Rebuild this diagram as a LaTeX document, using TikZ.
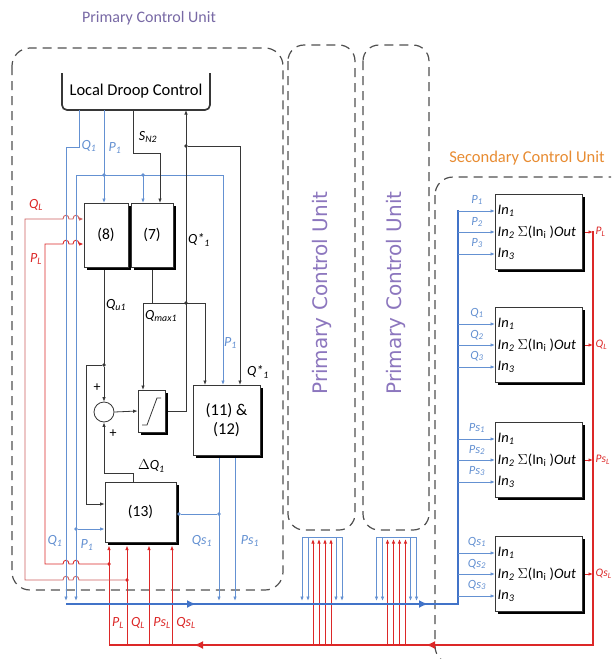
\documentclass[tikz,border=0pt]{standalone}
\usepackage{fontspec}
\setmainfont{Carlito}
\newfontfamily\rotfont{DejaVu Sans}
\usetikzlibrary{arrows.meta,shadows}
\definecolor{lblue}{RGB}{100,145,210}
\definecolor{bblue}{RGB}{65,115,200}
\definecolor{rred}{RGB}{220,40,40}
\definecolor{pinkred}{RGB}{205,95,95}
\definecolor{ptxt}{RGB}{120,105,165}
\definecolor{ptxtb}{RGB}{140,118,190}
\definecolor{otxt}{RGB}{232,140,50}
\definecolor{dgray}{RGB}{55,55,55}
\definecolor{dashc}{RGB}{80,80,80}
\newcommand\vsub[2]{\textit{#1}\textsubscript{\textit{#2}}}
\begin{document}
\begin{tikzpicture}[x=1pt,y=-1pt,
  >={Latex[length=4.5pt,width=3.5pt]},
  bl/.style={draw=lblue, line width=0.9pt},
  bk/.style={draw=dgray, line width=0.8pt},
  rd/.style={draw=rred, line width=0.9pt},
  pr/.style={draw=pinkred, line width=0.9pt},
  blk/.style={draw=dgray, line width=0.7pt, fill=white,
    drop shadow={opacity=1, fill=black, shadow xshift=2.6pt, shadow yshift=-2.6pt},
    inner sep=0pt, font=\fontsize{15.5}{18}\selectfont, align=center},
  dot/.style={circle, fill, inner sep=0pt, minimum size=3.6pt},
  lab/.style={font=\fontsize{14}{15}\selectfont, inner sep=0pt},
  slab/.style={font=\fontsize{12.5}{13}\selectfont, inner sep=0pt, text=lblue},
  intext/.style={font=\fontsize{14.5}{15}\selectfont, inner sep=0pt, anchor=west},
  dashbox/.style={draw=dashc, line width=1.2pt, dash pattern=on 9pt off 6pt},
  bus/.style={line width=2.6pt},
  bushead/.style={line width=2.6pt, -{Latex[length=9pt,width=8pt]}},
]
\useasboundingbox (0,0) rectangle (611,659);
\clip (0,0) rectangle (611,659);
\fill[white] (0,0) rectangle (611,659);

% ---------- titles and dashed units ----------
\node[text=ptxt, font=\fontsize{16}{18}\selectfont] (t1) at (149,18) {Primary Control Unit};
\draw[dashbox, rounded corners=18pt] (12,48) rectangle (283,590);
\draw[dashbox, rounded corners=16pt] (288,45) rectangle (355,530);
\draw[dashbox, rounded corners=16pt] (363,45) rectangle (429,530);
\node[rotate=90, text=ptxtb, font=\rotfont\fontsize{20}{22}\selectfont] (u2) at (321.5,293) {Primary Control Unit};
\node[rotate=90, text=ptxtb, font=\rotfont\fontsize{20}{22}\selectfont] (u3) at (396,293) {Primary Control Unit};
\node[text=otxt, font=\fontsize{16.5}{18}\selectfont] (t2) at (527,158) {Secondary Control Unit};
\draw[dashbox, rounded corners=18pt] (435,177) rectangle (660,664);

% ---------- local droop control ----------
\node[minimum width=148pt, minimum height=38pt, inner sep=0pt, font=\fontsize{16.5}{18}\selectfont] (ldc) at (136,91) {Local Droop Control};
\draw[dgray, line width=1.7pt, rounded corners=5pt] (62,73) -- (62,110) -- (210,110) -- (210,73);

% ---------- blocks ----------
\node[blk, minimum width=44pt, minimum height=64pt] (b8) at (106,235) {(8)};
\node[blk, minimum width=42pt, minimum height=64pt] (b7) at (152,235) {(7)};
\node[blk, minimum width=27pt, minimum height=42pt] (sat) at (151.5,411) {};
\draw[bk] (142,425) -- (147,425) -- (157,398) -- (161,398);
\node[blk, minimum width=67pt, minimum height=70pt, font=\fontsize{16.5}{19}\selectfont] (b11) at (226.5,420) {(11) \&\\(12)};
\node[blk, minimum width=71pt, minimum height=60pt] (b13) at (140.5,512) {(13)};
\node[circle, draw=dgray, line width=0.8pt, minimum size=20pt, inner sep=0pt] (sum) at (104,412) {};
\node[lab] (pl1) at (97,388) {+};
\node[lab] (pl2) at (113,434) {+};

% ---------- red P_L / Q_L feeding (8) and (13) ----------
\draw[rd,->] (127,645) -- (127,545.5);
\draw[rd,->] (109,645) -- (109,545.5);
\draw[rd,->] (149,645) -- (149,545.5);
\draw[rd,->] (172,645) -- (172,545.5);
\node[dot, rred] (dpl) at (109,564) {};
\node[dot, rred] (dql) at (127,580) {};
\draw[pr,->] (dql) -- (79,580) .. controls (79,575) and (73,575) .. (73,580) -- (69,580) .. controls (69,575) and (63,575) .. (63,580) -- (25,580) -- (25,219) -- (63,219) .. controls (63,214) and (69,214) .. (69,219) -- (73,219) .. controls (73,214) and (79,214) .. (79,219) -- (b8.west |- 0,219);
\draw[rd,->] (dpl) -- (79,564) .. controls (79,559) and (73,559) .. (73,564) -- (69,564) .. controls (69,559) and (63,559) .. (63,564) -- (45,564) -- (45,244) -- (63,244) .. controls (63,239) and (69,239) .. (69,244) -- (73,244) .. controls (73,239) and (79,239) .. (79,244) -- (b8.west |- 0,244);
\node[lab, text=rred] (lqlt) at (36,205) {\vsub{Q}{L}};
\node[lab, text=rred] (lplt) at (36,259) {\vsub{P}{L}};
\node[lab, text=rred] (lpl) at (118,623) {\vsub{P}{L}};
\node[lab, text=rred] (lql) at (138,623) {\vsub{Q}{L}};
\node[lab, text=rred] (lpsl) at (162,623) {\vsub{Ps}{L}};
\node[lab, text=rred] (lqsl) at (186,623) {\vsub{Qs}{L}};

% ---------- blue signals from LDC ----------
\draw[bl,->] (79,110) -- (79,147) -- (66,147) -- (66,601);
\draw[bl] (104,110) -- (104,175);
\draw[bl] (76,175) -- (223,175);
\draw[bl,->] (104,175) -- (104,203);
\draw[bl,->] (143,175) -- (143,203);
\draw[bl,->] (76,175) -- (76,601);
\draw[bl,->] (223,175) -- (223,385);
\node[dot, lblue] (d1) at (104,175) {};
\node[dot, lblue] (d2) at (143,175) {};
\node[dot, lblue] (d3) at (76,529) {};
\draw[bl,->] (d3) -- (b13.west |- 0,529);
\node[lab, text=lblue] (lq1t) at (89,146) {\vsub{Q}{1}};
\node[lab, text=lblue] (lp1t) at (115,148) {\vsub{P}{1}};
\node[lab, text=lblue] (lq1b) at (55,541) {\vsub{Q}{1}};
\node[lab, text=lblue] (lp1b) at (87,545) {\vsub{P}{1}};
\node[lab, text=lblue, anchor=west] (lp1m) at (224,343) {\vsub{P}{1}};

% ---------- black signals ----------
\draw[bk,->] (133,110) -- (133,153) -- (160,153) -- (160,203);
\node[lab] (lsn) at (148,137) {\vsub{S}{N2}};
\draw[bk,->] (sat.east) ++(2.6,0) -- (186,411) -- (186,110);
\node[dot, dgray] (d4) at (186,146) {};
\draw[bk,->] (d4) -- (240,146) -- (240,385);
\draw[bk] (152,270) -- (152,303);
\draw[bk] (143,303) -- (205,303);
\node[dot, dgray] (d5) at (186,303) {};
\draw[bk,->] (143,303) -- (143,390);
\draw[bk,->] (205,303) -- (205,385);
\node[lab, anchor=west] (lqs1) at (188,240) {\textit{Q*}\textsubscript{\textit{1}}};
\node[lab, anchor=west] (lqs2) at (247,372) {\textit{Q*}\textsubscript{\textit{1}}};
\node[lab, anchor=west] (lqmax) at (145,316) {\vsub{Q}{max1}};
\node[lab, anchor=west] (lqu) at (106,305) {\vsub{Q}{u1}};
\draw[bk] (104,270) -- (104,365);
\node[dot, dgray] (d6) at (104,365) {};
\draw[bk,->] (d6) -- (sum.north);
\draw[bk,->] (d6) -- (86,365) -- (86,504) -- (b13.west |- 0,504);
\draw[bk,->] (sum.east) -- (sat.west);
\draw[bk,->] (133,482) -- (133,473) -- (104,473) -- (sum.south);
\node[lab, anchor=west] (ldq) at (138,466) {\textit{$\Delta$Q}\textsubscript{\textit{1}}};

% ---------- outputs of (11)&(12) ----------
\draw[bl,->] (219,458) -- (219,601);
\draw[bl,->] (235,458) -- (235,601);
\node[dot, lblue] (d7) at (219,514) {};
\node[dot, lblue] (d8) at (179,514) {};
\draw[bl] (d7) -- (d8);
\node[lab, text=lblue] (lqs) at (202,541) {\vsub{Qs}{1}};
\node[lab, text=lblue] (lps) at (250,541) {\vsub{Ps}{1}};

% ---------- other primary units ----------
\foreach \c in {321.5,396}{
  \draw[lblue, line width=0.7pt] (\c-19.5,537) -- (\c+20.5,537);
  \foreach \dx in {-19.5,-13.5,14.5,20.5}{
    \draw[bl,->] (\c+\dx,537) -- (\c+\dx,601);
  }
  \foreach \dx in {-8.5,-2.5,3.5,9.5}{
    \draw[rd,->] (\c+\dx,645) -- (\c+\dx,539);
  }
}

% ---------- buses ----------
\draw[bblue, bus] (66,604) -- (458,604) -- (458,210);
\draw[bblue, bushead] (175,604) -- (196,604);
\draw[bblue, bushead] (405,604) -- (428,604);
\draw[rred, bus] (109,645) -- (593,645) -- (593,231);
\draw[rred, bushead] (216,645) -- (194,645);
\draw[rred, bushead] (448,645) -- (426,645);

% ---------- secondary control unit ----------
\foreach \n/\yc/\lbl/\olbl in {1/232/P/P,2/345/Q/Q,3/460/Ps/Ps,4/574/Qs/Qs}{
  \node[blk, minimum width=87pt, minimum height=75pt] (s\n) at (538.5,\yc) {};
  \node[intext] at (497.5,\yc-21) {\textit{In}\textsubscript{\textit{1}}};
  \node[intext] at (497.5,\yc) {\textit{In}\textsubscript{\textit{2}} $\Sigma$(In\textsubscript{i} )\textit{Out}};
  \node[intext] at (497.5,\yc+22) {\textit{In}\textsubscript{\textit{3}}};
  \draw[bl,->] (458,\yc-21) -- (495,\yc-21);
  \draw[bl,->] (458,\yc) -- (495,\yc);
  \draw[bl,->] (458,\yc+22) -- (495,\yc+22);
  \node[slab] at (477,\yc-32) {\vsub{\lbl}{1}};
  \node[slab] at (477,\yc-10) {\vsub{\lbl}{2}};
  \node[slab] at (477,\yc+11) {\vsub{\lbl}{3}};
  \draw[rd,->] (585,\yc) -- (593,\yc);
  \node[text=rred, anchor=west, inner sep=0pt, font=\fontsize{11.5}{12}\selectfont] at (595.5,\yc) {\vsub{\olbl}{L}};
}
\end{tikzpicture}
\end{document}
